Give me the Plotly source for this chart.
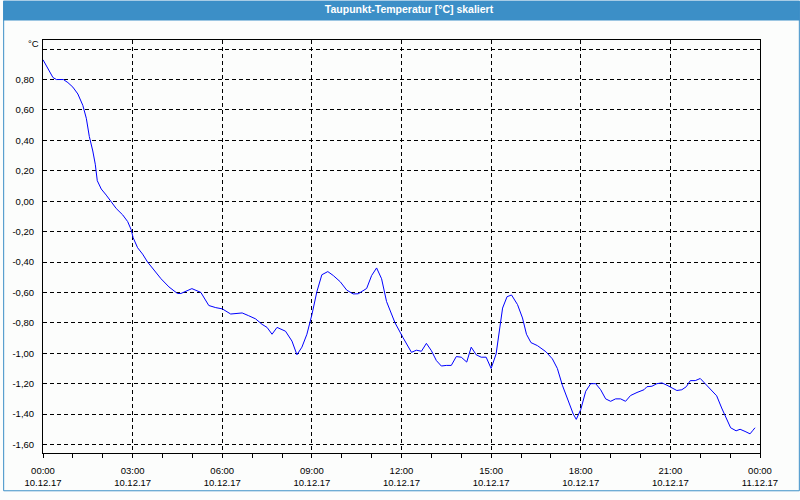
import plotly.graph_objects as go

# ---- data ----
day = "2017-12-10"
times = ["00:00","00:20","00:27","00:41","00:50","01:00","01:10","01:15","01:20","01:27",
         "01:33","01:40","01:45","01:49","01:57","02:07","02:17","02:27","02:40","02:50",
         "02:57","03:01","03:10","03:20","03:30","03:43","03:57","04:13","04:30","04:37",
         "04:47","04:59","05:17","05:27","05:33","05:47","06:00","06:17","06:40","06:53",
         "07:07","07:20","07:30","07:40","07:50","08:07","08:20","08:30","08:40","08:50",
         "09:00","09:10","09:20","09:32","09:43","09:57","10:10","10:23","10:33","10:50",
         "11:00","11:10","11:20","11:30","11:47","12:03","12:20","12:30","12:40","12:50",
         "13:00","13:10","13:20","13:30","13:40","13:50","14:00","14:11","14:20","14:30",
         "14:40","14:50","15:00","15:10","15:19","15:23","15:32","15:41","15:53","16:03",
         "16:11","16:20","16:33","16:50","17:03","17:13","17:23","17:35","17:45","17:51",
         "18:00","18:10","18:20","18:30","18:40","18:50","19:00","19:10","19:20","19:30",
         "19:40","19:53","20:07","20:13","20:23","20:33","20:43","20:53","21:03","21:13",
         "21:23","21:32","21:40","21:50","22:00","22:10","22:20","22:33","22:43","22:53",
         "23:01","23:12","23:20","23:30","23:40","23:45","23:50"]
values = [0.93,0.813,0.80,0.80,0.78,0.75,0.705,0.67,0.63,0.545,
          0.426,0.33,0.243,0.135,0.08,0.04,-0.005,-0.048,-0.09,-0.134,
          -0.187,-0.24,-0.306,-0.348,-0.40,-0.456,-0.51,-0.564,-0.607,-0.607,
          -0.59,-0.575,-0.60,-0.66,-0.686,-0.70,-0.708,-0.742,-0.735,-0.753,
          -0.774,-0.81,-0.83,-0.875,-0.83,-0.855,-0.92,-1.01,-0.96,-0.875,
          -0.747,-0.596,-0.484,-0.463,-0.489,-0.53,-0.585,-0.61,-0.609,-0.574,
          -0.489,-0.439,-0.51,-0.66,-0.80,-0.897,-0.994,-0.98,-0.987,-0.935,
          -0.983,-1.048,-1.084,-1.08,-1.08,-1.022,-1.026,-1.058,-0.96,-1.01,
          -1.026,-1.026,-1.10,-1.005,-0.80,-0.703,-0.628,-0.617,-0.68,-0.768,
          -0.875,-0.93,-0.95,-0.99,-1.037,-1.10,-1.21,-1.316,-1.40,-1.435,
          -1.37,-1.25,-1.20,-1.20,-1.24,-1.30,-1.316,-1.30,-1.30,-1.316,
          -1.278,-1.258,-1.24,-1.22,-1.217,-1.20,-1.195,-1.21,-1.23,-1.245,
          -1.24,-1.22,-1.18,-1.18,-1.166,-1.20,-1.23,-1.28,-1.36,-1.435,
          -1.49,-1.51,-1.50,-1.514,-1.53,-1.51,-1.49]

x_tickvals = ["2017-12-10 00:00","2017-12-10 03:00","2017-12-10 06:00","2017-12-10 09:00",
              "2017-12-10 12:00","2017-12-10 15:00","2017-12-10 18:00","2017-12-10 21:00",
              "2017-12-11 00:00"]
x_time_labels = ["00:00","03:00","06:00","09:00","12:00","15:00","18:00","21:00","00:00"]
x_date_labels = ["10.12.17"]*8 + ["11.12.17"]
y_tickvals = [-1.6,-1.4,-1.2,-1.0,-0.8,-0.6,-0.4,-0.2,0.0,0.2,0.4,0.6,0.8,1.0]
y_ticktext = ["-1,60","-1,40","-1,20","-1,00","-0,80","-0,60","-0,40","-0,20",
              "0,00","0,20","0,40","0,60","0,80",""]
title_text = "Taupunkt-Temperatur [°C] skaliert"
unit_text = "°C"

x_range = ["2017-12-10 00:00", "2017-12-11 00:00"]
y_range = [-1.656, 1.06]

# ---- figure ----
W, H = 800, 500
ML, MR, MT, MB = 40, 40, 40, 39
pw, ph = W - ML - MR, H - MT - MB
FONT = "Liberation Sans"
BG = "#fcfdfc"
BAR = "#3c8fc7"

xs = [f"{day} {t}" for t in times]

fig = go.Figure()
fig.add_trace(go.Scatter(x=xs, y=values, mode="lines",
                         line=dict(color="#0000ff", width=1),
                         showlegend=False, hoverinfo="x+y"))
# helper trace for the date label axis
fig.add_trace(go.Scatter(x=x_range, y=[y_range[0], y_range[0]], xaxis="x2",
                         mode="lines", line=dict(width=0), opacity=0,
                         showlegend=False, hoverinfo="skip"))

def px_x(p):
    return (p - ML) / pw

def px_y(p):
    return (H - MB - p) / ph

fig.update_layout(
    width=W, height=H, autosize=False,
    margin=dict(l=ML, r=MR, t=MT, b=MB, pad=0),
    paper_bgcolor=BG, plot_bgcolor=BG,
    font=dict(family=FONT, size=9.5, color="#000000"),
    title=dict(text="<b>" + title_text + "</b>", x=409 / W, xanchor="center",
               y=1 - 9 / H, yanchor="middle", yref="container",
               font=dict(family=FONT, size=10.5, color="#ffffff")),
    xaxis=dict(type="date", range=x_range, tickmode="array",
               tickvals=x_tickvals, ticktext=x_time_labels,
               showgrid=True, gridcolor="#000000", griddash="4px,3px", gridwidth=1,
               showline=True, linecolor="#000000", linewidth=1, mirror=True,
               ticks="outside", ticklen=4, tickcolor="#000000",
               minor=dict(ticks="outside", ticklen=4, dtick=3600000, tickcolor="#000000",
                          showgrid=False),
               zeroline=False, ticklabelstandoff=5,
               tickfont=dict(family=FONT, size=9.5)),
    xaxis2=dict(type="date", range=x_range, overlaying="x", anchor="y", side="bottom",
                tickmode="array", tickvals=x_tickvals, ticktext=x_date_labels,
                showgrid=False, showline=False, ticks="", zeroline=False,
                ticklabelstandoff=22, tickfont=dict(family=FONT, size=9.5)),
    yaxis=dict(range=y_range, tickmode="array", tickvals=y_tickvals, ticktext=y_ticktext,
               showgrid=True, gridcolor="#000000", griddash="4px,3px", gridwidth=1,
               showline=True, linecolor="#000000", linewidth=1, mirror=True,
               ticks="", zeroline=False, ticklabelstandoff=6,
               tickfont=dict(family=FONT, size=9.5)),
    shapes=[
        dict(type="rect", xref="paper", yref="paper",
             x0=px_x(0), x1=px_x(W), y0=px_y(20), y1=px_y(0),
             fillcolor=BAR, line=dict(width=0), layer="below"),
        dict(type="rect", xref="paper", yref="paper",
             x0=px_x(0.5), x1=px_x(W - 0.5), y0=px_y(H - 0.5), y1=px_y(0.5),
             fillcolor="rgba(0,0,0,0)", line=dict(color=BAR, width=1)),
    ],
    annotations=[
        dict(text=unit_text, xref="paper", x=0, xanchor="right", xshift=-2,
             yref="y", y=1.0, yanchor="bottom", yshift=-2, showarrow=False,
             font=dict(family=FONT, size=9.5, color="#000000")),
    ],
)

fig.write_html("out.html")
